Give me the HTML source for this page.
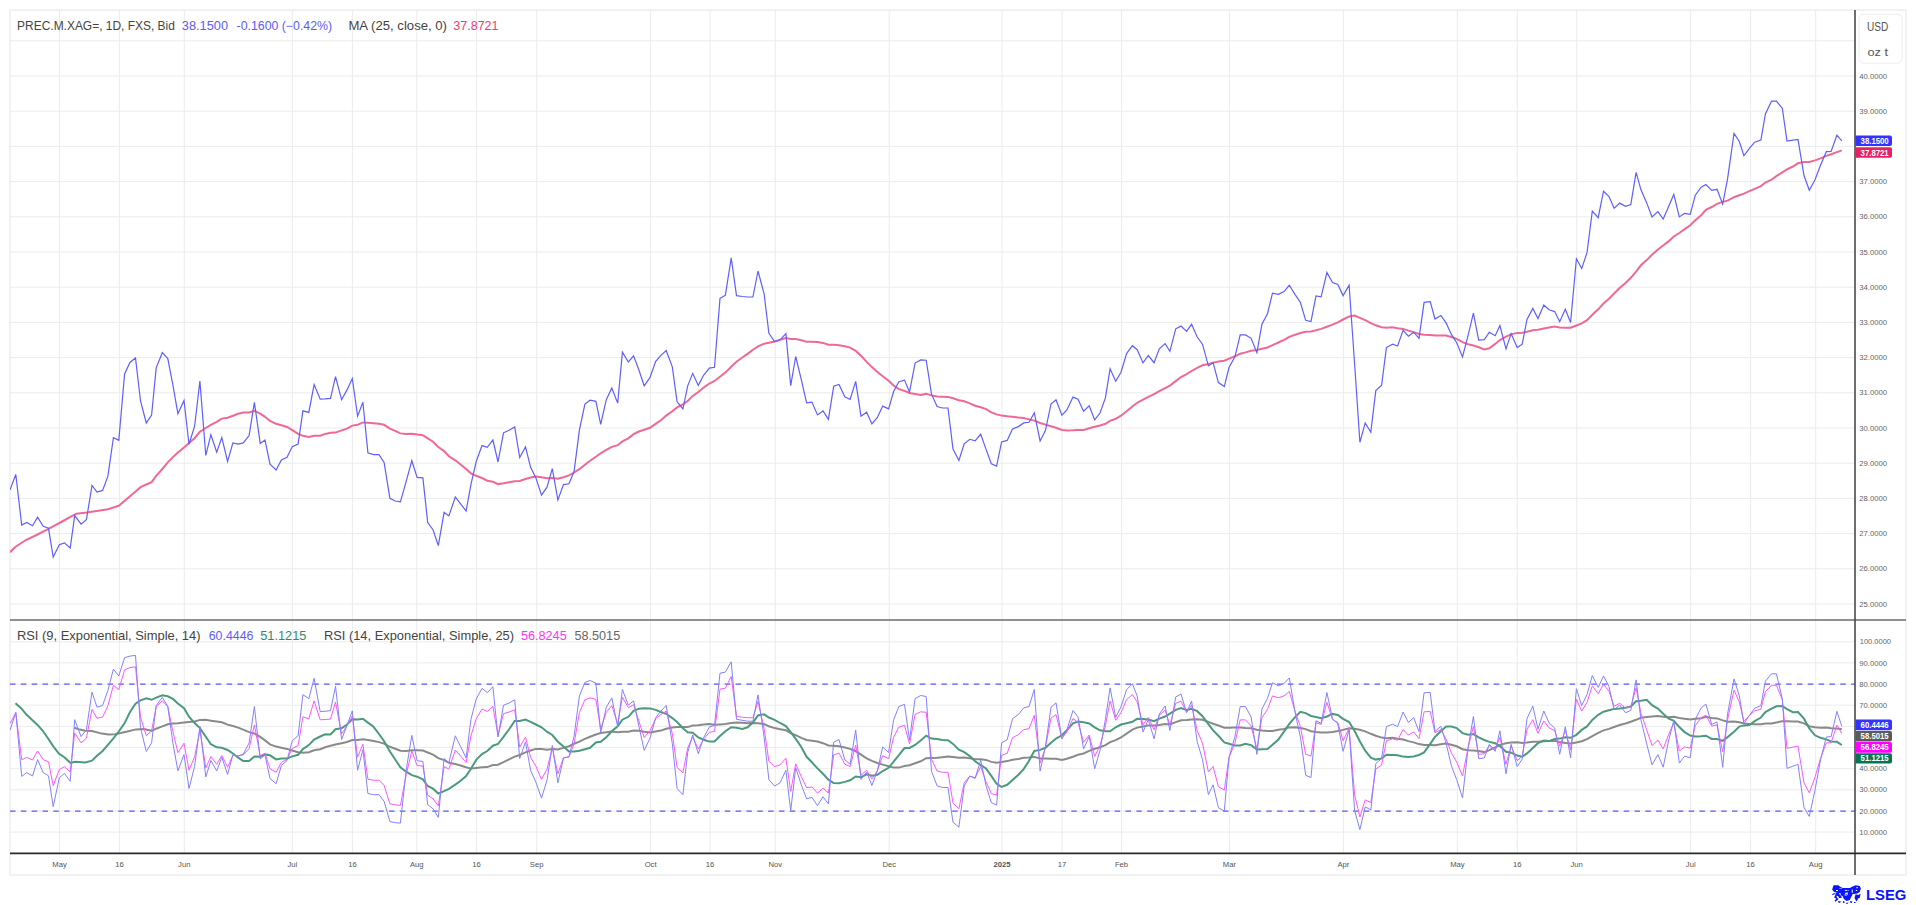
<!DOCTYPE html>
<html><head><meta charset="utf-8"><style>
html,body{margin:0;padding:0;background:#fff;width:1916px;height:905px;overflow:hidden;position:relative}
</style></head><body>
<svg width="1916" height="905" viewBox="0 0 1916 905" style="position:absolute;left:0;top:0"><rect x="10" y="10" width="1896" height="865" fill="#fff" stroke="#ececec" stroke-width="1.3"/><line x1="59.5" y1="10" x2="59.5" y2="853" stroke="#ececec" stroke-width="1"/><line x1="119.4" y1="10" x2="119.4" y2="853" stroke="#ececec" stroke-width="1"/><line x1="184.3" y1="10" x2="184.3" y2="853" stroke="#ececec" stroke-width="1"/><line x1="292.3" y1="10" x2="292.3" y2="853" stroke="#ececec" stroke-width="1"/><line x1="352.4" y1="10" x2="352.4" y2="853" stroke="#ececec" stroke-width="1"/><line x1="416.8" y1="10" x2="416.8" y2="853" stroke="#ececec" stroke-width="1"/><line x1="476.6" y1="10" x2="476.6" y2="853" stroke="#ececec" stroke-width="1"/><line x1="536.7" y1="10" x2="536.7" y2="853" stroke="#ececec" stroke-width="1"/><line x1="650.6" y1="10" x2="650.6" y2="853" stroke="#ececec" stroke-width="1"/><line x1="710" y1="10" x2="710" y2="853" stroke="#ececec" stroke-width="1"/><line x1="775.3" y1="10" x2="775.3" y2="853" stroke="#ececec" stroke-width="1"/><line x1="889.2" y1="10" x2="889.2" y2="853" stroke="#ececec" stroke-width="1"/><line x1="1002" y1="10" x2="1002" y2="853" stroke="#ececec" stroke-width="1"/><line x1="1062.1" y1="10" x2="1062.1" y2="853" stroke="#ececec" stroke-width="1"/><line x1="1121.5" y1="10" x2="1121.5" y2="853" stroke="#ececec" stroke-width="1"/><line x1="1229.4" y1="10" x2="1229.4" y2="853" stroke="#ececec" stroke-width="1"/><line x1="1343.4" y1="10" x2="1343.4" y2="853" stroke="#ececec" stroke-width="1"/><line x1="1457.4" y1="10" x2="1457.4" y2="853" stroke="#ececec" stroke-width="1"/><line x1="1517.3" y1="10" x2="1517.3" y2="853" stroke="#ececec" stroke-width="1"/><line x1="1576.7" y1="10" x2="1576.7" y2="853" stroke="#ececec" stroke-width="1"/><line x1="1690.7" y1="10" x2="1690.7" y2="853" stroke="#ececec" stroke-width="1"/><line x1="1750.6" y1="10" x2="1750.6" y2="853" stroke="#ececec" stroke-width="1"/><line x1="1815.7" y1="10" x2="1815.7" y2="853" stroke="#ececec" stroke-width="1"/><line x1="10" y1="604.0" x2="1855" y2="604.0" stroke="#ececec" stroke-width="1"/><line x1="10" y1="568.8" x2="1855" y2="568.8" stroke="#ececec" stroke-width="1"/><line x1="10" y1="533.6" x2="1855" y2="533.6" stroke="#ececec" stroke-width="1"/><line x1="10" y1="498.4" x2="1855" y2="498.4" stroke="#ececec" stroke-width="1"/><line x1="10" y1="463.2" x2="1855" y2="463.2" stroke="#ececec" stroke-width="1"/><line x1="10" y1="428.0" x2="1855" y2="428.0" stroke="#ececec" stroke-width="1"/><line x1="10" y1="392.8" x2="1855" y2="392.8" stroke="#ececec" stroke-width="1"/><line x1="10" y1="357.6" x2="1855" y2="357.6" stroke="#ececec" stroke-width="1"/><line x1="10" y1="322.4" x2="1855" y2="322.4" stroke="#ececec" stroke-width="1"/><line x1="10" y1="287.2" x2="1855" y2="287.2" stroke="#ececec" stroke-width="1"/><line x1="10" y1="252.0" x2="1855" y2="252.0" stroke="#ececec" stroke-width="1"/><line x1="10" y1="216.8" x2="1855" y2="216.8" stroke="#ececec" stroke-width="1"/><line x1="10" y1="181.6" x2="1855" y2="181.6" stroke="#ececec" stroke-width="1"/><line x1="10" y1="146.4" x2="1855" y2="146.4" stroke="#ececec" stroke-width="1"/><line x1="10" y1="111.2" x2="1855" y2="111.2" stroke="#ececec" stroke-width="1"/><line x1="10" y1="76.0" x2="1855" y2="76.0" stroke="#ececec" stroke-width="1"/><line x1="10" y1="40.8" x2="1855" y2="40.8" stroke="#ececec" stroke-width="1"/><line x1="10" y1="832.1" x2="1855" y2="832.1" stroke="#ececec" stroke-width="1"/><line x1="10" y1="811.0" x2="1855" y2="811.0" stroke="#ececec" stroke-width="1"/><line x1="10" y1="789.8" x2="1855" y2="789.8" stroke="#ececec" stroke-width="1"/><line x1="10" y1="768.7" x2="1855" y2="768.7" stroke="#ececec" stroke-width="1"/><line x1="10" y1="747.5" x2="1855" y2="747.5" stroke="#ececec" stroke-width="1"/><line x1="10" y1="726.4" x2="1855" y2="726.4" stroke="#ececec" stroke-width="1"/><line x1="10" y1="705.2" x2="1855" y2="705.2" stroke="#ececec" stroke-width="1"/><line x1="10" y1="684.1" x2="1855" y2="684.1" stroke="#ececec" stroke-width="1"/><line x1="10" y1="662.9" x2="1855" y2="662.9" stroke="#ececec" stroke-width="1"/><line x1="10" y1="641.8" x2="1855" y2="641.8" stroke="#ececec" stroke-width="1"/><line x1="10" y1="684.1" x2="1855" y2="684.1" stroke="#5858ff" stroke-width="1.25" stroke-dasharray="5.5 5.33"/><line x1="10" y1="811.0" x2="1855" y2="811.0" stroke="#5858ff" stroke-width="1.25" stroke-dasharray="5.5 5.33"/><defs><clipPath id="cm"><rect x="10" y="10" width="1845" height="610"/></clipPath><clipPath id="cr"><rect x="10" y="620" width="1845" height="233"/></clipPath></defs><g clip-path="url(#cm)" fill="none"><path d="M10.0,552.2 L15.3,547.0 L25.9,540.0 L36.5,535.0 L48.5,528.9 L63.0,521.0 L76.3,513.7 L86.9,512.4 L108.0,509.2 L118.8,505.8 L137.3,489.9 L140.5,487.2 L146.3,484.5 L151.6,482.1 L156.2,475.8 L162.3,469.0 L167.8,462.3 L172.9,457.1 L177.9,452.6 L184.0,447.4 L189.0,442.9 L194.6,438.2 L199.9,431.7 L205.8,428.0 L210.9,424.8 L216.7,421.9 L221.8,418.6 L227.6,417.7 L232.9,415.7 L238.2,413.8 L243.2,412.5 L249.1,412.4 L254.4,410.9 L260.2,413.7 L265.0,416.8 L270.0,421.0 L276.1,423.8 L281.4,425.3 L287.0,427.0 L292.3,430.1 L298.1,433.8 L302.9,435.8 L308.8,436.9 L314.1,435.8 L320.2,435.7 L325.2,433.9 L330.5,432.8 L335.5,432.6 L341.6,430.4 L347.0,428.6 L352.3,425.6 L357.6,424.8 L362.9,422.4 L367.9,422.8 L373.5,423.2 L379.0,423.7 L384.1,424.8 L389.9,428.6 L395.2,430.9 L400.4,433.4 L406.2,434.1 L411.8,433.7 L417.1,434.4 L422.9,435.2 L427.7,438.3 L433.0,441.7 L438.3,447.1 L444.1,451.1 L448.9,456.3 L455.3,460.3 L460.6,464.5 L466.1,469.0 L470.9,473.3 L476.2,475.8 L482.0,478.0 L487.3,480.7 L492.9,481.7 L498.0,484.1 L503.5,483.3 L509.1,482.3 L514.7,481.2 L519.7,481.0 L525.5,479.0 L530.6,477.6 L535.9,476.6 L541.5,477.2 L547.0,478.3 L552.3,477.9 L557.9,478.8 L563.5,477.3 L569.0,475.4 L574.1,472.5 L579.4,469.2 L584.9,464.7 L590.1,460.8 L595.9,456.7 L600.7,453.3 L606.3,449.9 L611.8,446.9 L617.7,445.2 L622.4,441.4 L628.3,438.3 L633.6,434.1 L638.9,431.5 L644.2,429.8 L650.0,427.8 L655.6,423.9 L660.9,420.3 L666.2,415.6 L672.3,411.2 L677.1,407.4 L682.9,404.3 L687.7,401.0 L692.7,395.9 L698.3,392.0 L703.6,387.6 L709.4,383.5 L714.5,381.0 L720.0,376.8 L725.4,372.6 L731.2,366.8 L736.5,361.7 L742.3,357.5 L747.6,353.9 L752.9,349.7 L758.0,346.4 L764.1,343.7 L768.9,342.8 L774.6,341.6 L780.1,339.8 L785.9,338.1 L790.7,339.0 L795.7,339.1 L801.3,340.2 L806.6,341.7 L811.9,341.7 L817.5,341.9 L823.0,342.9 L828.4,344.8 L833.7,344.8 L839.0,345.2 L844.8,346.3 L850.1,347.6 L855.7,350.9 L861.0,355.7 L866.6,361.9 L871.9,367.1 L877.4,371.9 L882.7,376.3 L888.6,380.7 L893.6,385.5 L898.9,389.1 L904.5,390.9 L909.5,393.0 L915.1,393.9 L920.7,394.9 L926.2,393.9 L931.5,395.4 L937.1,396.5 L942.4,396.7 L948.0,396.9 L953.0,398.3 L958.9,400.3 L964.2,401.3 L969.8,403.4 L975.1,405.7 L980.7,407.2 L986.0,409.1 L991.3,412.4 L996.6,414.4 L1001.6,415.6 L1007.2,416.3 L1012.5,416.7 L1018.4,417.6 L1023.7,418.1 L1029.0,419.4 L1034.3,420.6 L1040.1,423.0 L1045.4,424.6 L1051.0,426.2 L1056.0,427.8 L1061.9,430.0 L1066.9,430.6 L1073.0,430.3 L1078.0,429.9 L1083.6,430.0 L1089.2,428.3 L1094.7,426.7 L1100.0,425.5 L1105.4,423.8 L1110.1,420.9 L1115.7,418.8 L1121.0,415.7 L1126.6,411.3 L1132.4,406.5 L1137.2,402.8 L1143.0,399.7 L1148.3,396.8 L1154.1,394.2 L1159.3,391.2 L1165.1,388.1 L1169.9,385.6 L1175.7,381.1 L1181.0,377.0 L1186.6,374.1 L1191.6,371.0 L1197.2,367.9 L1202.5,365.3 L1208.4,364.0 L1213.1,362.6 L1218.4,361.4 L1224.3,360.7 L1229.0,358.6 L1234.9,356.3 L1240.2,353.8 L1245.5,352.4 L1251.1,350.7 L1256.9,349.9 L1261.9,348.8 L1267.5,347.5 L1272.5,345.2 L1278.4,342.5 L1284.0,339.9 L1289.3,336.8 L1295.1,334.7 L1300.4,333.0 L1305.7,331.8 L1311.0,331.5 L1316.0,330.3 L1321.1,328.9 L1326.9,326.8 L1332.5,324.7 L1337.8,322.3 L1343.1,319.5 L1349.1,316.4 L1354.6,315.6 L1359.9,317.8 L1365.2,320.1 L1370.8,323.1 L1375.8,325.3 L1381.6,327.3 L1386.4,327.7 L1392.5,327.3 L1397.6,328.2 L1403.1,328.9 L1408.4,330.6 L1413.7,332.1 L1419.0,334.0 L1424.1,334.7 L1430.2,334.9 L1435.0,335.6 L1440.8,335.4 L1446.1,335.5 L1451.4,337.0 L1456.7,338.8 L1462.5,342.2 L1468.1,344.3 L1473.4,345.5 L1478.7,347.3 L1484.3,349.4 L1489.3,348.2 L1495.2,343.9 L1499.9,340.0 L1506.0,336.7 L1511.1,334.4 L1517.2,332.9 L1522.2,332.8 L1527.0,331.8 L1532.8,330.3 L1538.0,329.8 L1543.8,328.5 L1549.1,327.6 L1554.7,326.6 L1559.7,327.4 L1565.3,327.7 L1570.6,327.8 L1576.4,325.5 L1581.7,323.4 L1587.0,320.1 L1592.3,314.8 L1598.2,309.3 L1603.5,303.5 L1609.0,298.8 L1614.1,293.5 L1619.7,288.1 L1625.5,283.0 L1630.8,277.8 L1636.1,271.7 L1640.9,265.3 L1646.7,260.1 L1652.0,254.8 L1657.9,249.5 L1663.2,245.5 L1668.5,241.4 L1673.8,236.5 L1679.3,233.0 L1684.6,229.1 L1690.2,225.2 L1695.3,220.2 L1701.1,215.3 L1705.9,209.8 L1711.7,207.0 L1717.0,203.8 L1722.7,201.9 L1727.6,200.6 L1734.0,197.2 L1739.3,195.2 L1743.9,193.6 L1749.4,191.2 L1754.7,188.8 L1760.9,186.1 L1765.4,182.5 L1771.5,179.7 L1776.4,176.1 L1782.3,172.3 L1787.0,169.3 L1792.9,166.5 L1798.0,163.3 L1804.0,162.0 L1809.3,161.9 L1815.0,160.4 L1820.5,158.4 L1826.3,155.9 L1831.1,154.2 L1836.9,152.1 L1841.8,150.4" stroke="#f06896" stroke-width="2"/><path d="M10.0,489.9 L15.8,474.5 L21.7,525.1 L26.7,522.5 L32.5,525.7 L37.6,517.2 L43.2,526.2 L48.5,528.3 L53.2,557.0 L59.3,544.8 L64.4,542.9 L70.2,548.0 L74.7,515.6 L81.1,524.1 L86.4,519.8 L92.0,485.4 L97.0,492.0 L102.6,490.4 L107.9,476.1 L113.4,437.6 L118.8,440.3 L124.6,374.0 L129.9,362.5 L135.5,358.0 L140.5,401.0 L146.3,423.0 L151.6,415.0 L156.2,367.9 L162.3,352.7 L167.8,358.6 L172.9,385.1 L177.9,413.7 L184.0,400.5 L189.0,444.2 L194.6,426.2 L199.9,381.1 L205.8,455.4 L210.9,434.7 L216.7,452.2 L221.8,437.6 L227.6,461.5 L232.9,442.9 L238.2,444.2 L243.2,442.9 L249.1,435.5 L254.4,402.3 L260.2,443.4 L265.0,440.0 L270.0,464.1 L276.1,470.0 L281.4,459.9 L287.0,457.2 L292.3,446.6 L298.1,444.0 L302.9,410.8 L308.8,412.4 L314.1,384.6 L320.2,399.2 L325.2,398.9 L330.5,398.4 L335.5,376.6 L341.6,399.7 L347.0,389.9 L352.3,378.5 L357.6,416.1 L362.9,402.3 L367.9,452.7 L373.5,454.6 L379.0,454.6 L384.1,462.5 L389.9,498.4 L395.2,501.0 L400.4,501.8 L406.2,481.4 L411.8,460.7 L417.1,477.4 L422.9,477.9 L427.7,522.5 L433.0,529.7 L438.3,545.6 L444.1,512.4 L448.9,515.9 L455.3,497.0 L460.6,503.9 L466.1,511.1 L470.9,484.6 L476.2,461.5 L482.0,445.6 L487.3,447.4 L492.9,440.0 L498.0,462.0 L503.5,432.8 L509.1,430.2 L514.7,427.0 L519.7,457.5 L525.5,446.9 L530.6,467.3 L535.9,477.9 L541.5,495.2 L547.0,487.2 L552.3,468.6 L557.9,500.0 L563.5,484.6 L569.0,483.8 L574.1,471.3 L579.4,430.2 L584.9,404.1 L590.1,400.2 L595.9,401.3 L600.7,424.4 L606.3,399.7 L611.8,388.0 L617.7,403.1 L622.4,352.2 L628.3,362.0 L633.6,355.9 L638.9,370.0 L644.2,385.9 L650.0,377.4 L655.6,361.5 L660.9,355.4 L666.2,350.6 L672.3,366.8 L677.1,401.8 L682.9,409.0 L687.7,385.9 L692.7,373.4 L698.3,385.4 L703.6,375.3 L709.4,368.1 L714.5,367.3 L720.0,298.4 L725.4,295.2 L731.2,257.8 L736.5,295.7 L742.3,296.5 L747.6,297.0 L752.9,297.0 L758.0,271.0 L764.1,293.8 L768.9,333.4 L774.6,341.5 L780.1,339.8 L785.9,333.7 L790.7,385.7 L795.7,356.5 L801.3,379.6 L806.6,402.9 L811.9,402.1 L817.5,414.9 L823.0,410.9 L828.4,419.4 L833.7,386.2 L839.0,384.4 L844.8,396.8 L850.1,399.5 L855.7,381.4 L861.0,416.2 L866.6,412.2 L871.9,423.9 L877.4,417.5 L882.7,406.1 L888.6,408.8 L893.6,391.5 L898.9,381.7 L904.5,380.1 L909.5,392.0 L915.1,363.1 L920.7,359.9 L926.2,360.2 L931.5,394.2 L937.1,406.6 L942.4,408.0 L948.0,408.0 L953.0,449.1 L958.9,460.5 L964.2,443.8 L969.8,439.3 L975.1,440.9 L980.7,434.3 L986.0,449.1 L991.3,463.7 L996.6,466.1 L1001.6,442.0 L1007.2,440.4 L1012.5,429.0 L1018.4,426.6 L1023.7,422.9 L1029.0,422.3 L1034.3,413.0 L1040.1,440.9 L1045.4,430.6 L1051.0,404.0 L1056.0,399.8 L1061.9,415.2 L1066.9,409.9 L1073.0,397.1 L1078.0,399.3 L1083.6,411.2 L1089.2,405.9 L1094.7,419.9 L1100.0,413.0 L1105.4,397.9 L1110.1,368.8 L1115.7,381.2 L1121.0,372.2 L1126.6,353.6 L1132.4,345.7 L1137.2,349.7 L1143.0,362.9 L1148.3,355.5 L1154.1,362.7 L1159.3,348.9 L1165.1,343.6 L1169.9,351.3 L1175.7,328.8 L1181.0,326.1 L1186.6,331.4 L1191.6,324.3 L1197.2,337.0 L1202.5,344.2 L1208.4,365.9 L1213.1,362.7 L1218.4,382.6 L1224.3,386.6 L1229.0,367.5 L1234.9,356.9 L1240.2,334.9 L1245.5,334.9 L1251.1,338.3 L1256.9,352.7 L1261.9,324.3 L1267.5,313.7 L1272.5,293.2 L1278.4,294.3 L1284.0,291.6 L1289.3,285.3 L1295.1,294.6 L1300.4,302.5 L1305.7,320.3 L1311.0,321.6 L1316.0,295.9 L1321.1,296.9 L1326.9,272.5 L1332.5,282.6 L1337.8,284.5 L1343.1,295.6 L1349.1,285.3 L1354.6,363.8 L1359.9,442.3 L1365.2,422.9 L1370.8,432.2 L1375.8,390.6 L1381.6,385.3 L1386.4,347.6 L1392.5,344.2 L1397.6,346.0 L1403.1,330.4 L1408.4,336.2 L1413.7,332.2 L1419.0,338.3 L1424.1,302.3 L1430.2,301.7 L1435.0,319.0 L1440.8,315.5 L1446.1,322.9 L1451.4,334.4 L1456.7,342.8 L1462.5,356.9 L1468.1,335.4 L1473.4,313.1 L1478.7,340.2 L1484.3,339.7 L1489.3,332.2 L1495.2,335.7 L1499.9,325.6 L1506.0,348.9 L1511.1,333.6 L1517.2,347.6 L1522.2,344.2 L1527.0,319.5 L1532.8,308.4 L1538.0,318.5 L1543.8,305.0 L1549.1,309.8 L1554.7,311.6 L1559.7,321.7 L1565.3,309.2 L1570.6,322.5 L1576.4,258.8 L1581.7,268.6 L1587.0,252.7 L1592.3,211.1 L1598.2,217.7 L1603.5,191.2 L1609.0,196.5 L1614.1,208.2 L1619.7,203.1 L1625.5,206.3 L1630.8,204.5 L1636.1,172.4 L1640.9,189.6 L1646.7,202.9 L1652.0,216.9 L1657.9,211.6 L1663.2,219.0 L1668.5,206.7 L1673.8,194.4 L1679.3,216.9 L1684.6,213.5 L1690.2,214.3 L1695.3,195.2 L1701.1,187.2 L1705.9,184.5 L1711.7,190.3 L1717.0,189.3 L1722.7,204.1 L1727.6,178.7 L1734.0,133.5 L1739.3,141.5 L1743.9,155.8 L1749.4,148.3 L1754.7,142.2 L1760.9,140.1 L1765.4,114.0 L1771.5,101.2 L1776.4,101.2 L1782.3,108.2 L1787.0,141.1 L1792.9,140.1 L1798.0,139.4 L1804.0,175.5 L1809.3,190.3 L1815.0,179.7 L1820.5,165.3 L1826.3,151.7 L1831.1,151.5 L1836.9,135.2 L1841.8,140.9" stroke="#5f5fff" stroke-width="1.2"/></g><g clip-path="url(#cr)" fill="none"><path d="M74.3,727.7 L79.8,729.6 L85.3,730.8 L92.0,731.1 L101.9,733.6 L108.5,734.6 L115.1,734.2 L127.3,731.5 L136.1,729.4 L143.9,728.9 L150.5,730.4 L151.6,730.8 L156.2,728.7 L162.3,726.4 L167.8,724.3 L172.9,723.5 L177.9,723.3 L184.0,722.5 L189.0,721.9 L194.6,721.4 L199.9,719.9 L205.8,719.8 L210.9,720.7 L216.7,721.6 L221.8,722.3 L227.6,724.6 L232.9,726.0 L238.2,727.6 L243.2,729.6 L249.1,732.1 L254.4,733.5 L260.2,736.9 L265.0,740.4 L270.0,744.4 L276.1,746.6 L281.4,747.7 L287.0,748.9 L292.3,750.5 L298.1,752.3 L302.9,752.7 L308.8,752.2 L314.1,750.2 L320.2,749.2 L325.2,747.2 L330.5,745.7 L335.5,744.6 L341.6,743.2 L347.0,742.0 L352.3,740.0 L357.6,740.1 L362.9,739.2 L367.9,740.1 L373.5,741.1 L379.0,742.1 L384.1,743.6 L389.9,746.8 L395.2,748.7 L400.4,750.8 L406.2,751.0 L411.8,750.2 L417.1,750.3 L422.9,750.6 L427.7,752.5 L433.0,754.6 L438.3,758.1 L444.1,760.1 L448.9,762.8 L455.3,764.0 L460.6,765.5 L466.1,767.2 L470.9,768.6 L476.2,767.9 L482.0,767.3 L487.3,767.1 L492.9,765.1 L498.0,764.7 L503.5,762.1 L509.1,759.4 L514.7,756.6 L519.7,755.0 L525.5,752.4 L530.6,750.5 L535.9,748.9 L541.5,749.1 L547.0,749.8 L552.3,749.1 L557.9,749.4 L563.5,747.9 L569.0,746.2 L574.1,743.7 L579.4,741.6 L584.9,738.8 L590.1,736.7 L595.9,734.5 L600.7,733.1 L606.3,732.2 L611.8,731.6 L617.7,732.2 L622.4,731.7 L628.3,731.7 L633.6,730.5 L638.9,730.8 L644.2,731.8 L650.0,732.6 L655.6,731.5 L660.9,730.6 L666.2,728.7 L672.3,727.4 L677.1,726.9 L682.9,727.1 L687.7,727.1 L692.7,725.6 L698.3,725.3 L703.6,724.5 L709.4,724.1 L714.5,724.8 L720.0,724.4 L725.4,724.0 L731.2,723.1 L736.5,722.6 L742.3,722.8 L747.6,723.3 L752.9,723.0 L758.0,723.2 L764.1,724.0 L768.9,726.3 L774.6,728.1 L780.1,729.2 L785.9,730.3 L790.7,733.2 L795.7,735.2 L801.3,737.8 L806.6,740.0 L811.9,740.8 L817.5,741.6 L823.0,743.2 L828.4,745.5 L833.7,745.7 L839.0,746.3 L844.8,747.5 L850.1,748.9 L855.7,751.2 L861.0,754.6 L866.6,758.4 L871.9,760.9 L877.4,763.0 L882.7,764.6 L888.6,766.2 L893.6,767.6 L898.9,767.6 L904.5,766.1 L909.5,765.2 L915.1,763.2 L920.7,761.3 L926.2,758.2 L931.5,758.0 L937.1,757.8 L942.4,757.2 L948.0,756.6 L953.0,757.0 L958.9,757.8 L964.2,757.4 L969.8,758.2 L975.1,759.2 L980.7,759.3 L986.0,759.9 L991.3,761.9 L996.6,762.7 L1001.6,762.1 L1007.2,761.1 L1012.5,759.7 L1018.4,758.9 L1023.7,757.7 L1029.0,757.4 L1034.3,756.9 L1040.1,758.4 L1045.4,758.6 L1051.0,758.7 L1056.0,758.8 L1061.9,759.9 L1066.9,758.8 L1073.0,756.7 L1078.0,754.7 L1083.6,753.5 L1089.2,750.8 L1094.7,748.7 L1100.0,747.2 L1105.4,745.2 L1110.1,742.1 L1115.7,740.2 L1121.0,737.5 L1126.6,733.7 L1132.4,729.7 L1137.2,727.6 L1143.0,726.4 L1148.3,725.6 L1154.1,725.4 L1159.3,724.9 L1165.1,724.1 L1169.9,724.5 L1175.7,722.1 L1181.0,720.2 L1186.6,720.0 L1191.6,719.6 L1197.2,719.3 L1202.5,719.8 L1208.4,721.9 L1213.1,723.7 L1218.4,725.5 L1224.3,727.7 L1229.0,727.7 L1234.9,727.6 L1240.2,727.4 L1245.5,728.1 L1251.1,728.3 L1256.9,729.8 L1261.9,730.5 L1267.5,731.1 L1272.5,730.9 L1278.4,729.8 L1284.0,728.9 L1289.3,727.4 L1295.1,727.2 L1300.4,727.9 L1305.7,729.1 L1311.0,731.2 L1316.0,732.0 L1321.1,732.5 L1326.9,732.4 L1332.5,731.9 L1337.8,731.1 L1343.1,729.9 L1349.1,728.3 L1354.6,728.7 L1359.9,729.7 L1365.2,731.4 L1370.8,733.8 L1375.8,735.8 L1381.6,737.6 L1386.4,738.2 L1392.5,737.8 L1397.6,738.7 L1403.1,739.5 L1408.4,741.1 L1413.7,742.4 L1419.0,744.1 L1424.1,745.0 L1430.2,745.0 L1435.0,745.2 L1440.8,744.2 L1446.1,743.5 L1451.4,744.7 L1456.7,746.3 L1462.5,749.2 L1468.1,750.3 L1473.4,750.5 L1478.7,751.0 L1484.3,752.1 L1489.3,750.1 L1495.2,747.4 L1499.9,744.9 L1506.0,743.3 L1511.1,742.4 L1517.2,742.3 L1522.2,742.9 L1527.0,742.5 L1532.8,741.7 L1538.0,741.8 L1543.8,741.2 L1549.1,741.1 L1554.7,740.8 L1559.7,742.1 L1565.3,742.9 L1570.6,743.6 L1576.4,742.4 L1581.7,741.2 L1587.0,739.2 L1592.3,736.2 L1598.2,732.9 L1603.5,730.4 L1609.0,728.9 L1614.1,727.0 L1619.7,725.0 L1625.5,723.5 L1630.8,721.8 L1636.1,719.8 L1640.9,717.8 L1646.7,717.1 L1652.0,716.5 L1657.9,715.9 L1663.2,716.7 L1668.5,717.3 L1673.8,716.8 L1679.3,718.0 L1684.6,718.8 L1690.2,719.5 L1695.3,718.7 L1701.1,718.2 L1705.9,716.8 L1711.7,717.9 L1717.0,718.4 L1722.7,720.4 L1727.6,721.7 L1734.0,721.6 L1739.3,722.3 L1743.9,723.5 L1749.4,723.9 L1754.7,724.2 L1760.9,724.2 L1765.4,723.6 L1771.5,723.5 L1776.4,722.4 L1782.3,721.2 L1787.0,721.3 L1792.9,721.6 L1798.0,721.5 L1804.0,723.4 L1809.3,726.2 L1815.0,727.3 L1820.5,727.7 L1826.3,727.5 L1831.1,728.2 L1836.9,728.5 L1841.8,729.2" stroke="#8a8a8a" stroke-width="2"/><path d="M15.5,703.3 L21.3,708.4 L26.2,714.3 L31.7,719.4 L37.3,724.7 L42.8,730.8 L48.3,738.7 L53.3,746.3 L58.8,753.5 L64.3,757.3 L70.4,762.8 L75.4,761.7 L85.3,762.4 L92.0,760.7 L97.0,755.8 L102.6,751.0 L107.9,744.9 L113.4,738.4 L118.8,731.5 L124.6,723.1 L129.9,712.3 L135.5,703.6 L140.5,700.3 L146.3,698.2 L151.6,699.8 L156.2,697.6 L162.3,695.3 L167.8,696.3 L172.9,698.9 L177.9,703.6 L184.0,708.2 L189.0,716.7 L194.6,723.1 L199.9,728.1 L205.8,736.7 L210.9,744.2 L216.7,747.3 L221.8,747.7 L227.6,750.0 L232.9,753.5 L238.2,757.7 L243.2,761.1 L249.1,761.1 L254.4,756.5 L260.2,756.8 L265.0,754.4 L270.0,755.3 L276.1,759.4 L281.4,758.5 L287.0,758.5 L292.3,756.4 L298.1,754.8 L302.9,749.1 L308.8,745.1 L314.1,739.6 L320.2,736.5 L325.2,734.3 L330.5,734.5 L335.5,729.3 L341.6,728.2 L347.0,724.5 L352.3,719.3 L357.6,719.6 L362.9,718.8 L367.9,722.6 L373.5,726.8 L379.0,734.0 L384.1,741.3 L389.9,751.5 L395.2,759.5 L400.4,767.4 L406.2,771.7 L411.8,775.2 L417.1,776.7 L422.9,779.3 L427.7,786.0 L433.0,788.7 L438.3,793.6 L444.1,791.1 L448.9,788.8 L455.3,784.6 L460.6,780.7 L466.1,776.1 L470.9,768.8 L476.2,759.9 L482.0,754.1 L487.3,751.0 L492.9,745.7 L498.0,744.0 L503.5,736.9 L509.1,729.3 L514.7,720.9 L519.7,720.9 L525.5,719.5 L530.6,721.9 L535.9,724.5 L541.5,727.3 L547.0,731.7 L552.3,735.0 L557.9,741.7 L563.5,746.4 L569.0,751.4 L574.1,751.4 L579.4,750.7 L584.9,749.2 L590.1,747.8 L595.9,742.5 L600.7,741.8 L606.3,737.3 L611.8,731.3 L617.7,726.2 L622.4,719.7 L628.3,716.8 L633.6,710.9 L638.9,708.7 L644.2,708.2 L650.0,708.4 L655.6,709.9 L660.9,712.0 L666.2,713.8 L672.3,718.1 L677.1,722.1 L682.9,728.3 L687.7,732.2 L692.7,732.8 L698.3,737.4 L703.6,739.7 L709.4,741.6 L714.5,741.5 L720.0,736.0 L725.4,731.3 L731.2,727.3 L736.5,727.8 L742.3,728.9 L747.6,727.3 L752.9,722.5 L758.0,715.4 L764.1,714.3 L768.9,717.5 L774.6,719.8 L780.1,723.0 L785.9,726.1 L790.7,732.2 L795.7,738.9 L801.3,747.0 L806.6,756.8 L811.9,762.3 L817.5,768.4 L823.0,773.8 L828.4,779.7 L833.7,783.1 L839.0,783.3 L844.8,781.9 L850.1,780.3 L855.7,776.5 L861.0,777.2 L866.6,774.4 L871.9,775.7 L877.4,774.7 L882.7,771.0 L888.6,767.8 L893.6,761.7 L898.9,755.2 L904.5,748.1 L909.5,748.0 L915.1,745.0 L920.7,740.5 L926.2,735.6 L931.5,738.6 L937.1,739.0 L942.4,740.1 L948.0,740.3 L953.0,743.9 L958.9,749.7 L964.2,752.1 L969.8,756.1 L975.1,761.2 L980.7,765.2 L986.0,768.5 L991.3,775.9 L996.6,783.7 L1001.6,787.0 L1007.2,784.8 L1012.5,780.0 L1018.4,774.8 L1023.7,769.1 L1029.0,760.8 L1034.3,751.0 L1040.1,749.9 L1045.4,747.8 L1051.0,742.7 L1056.0,738.6 L1061.9,735.3 L1066.9,730.1 L1073.0,723.4 L1078.0,721.5 L1083.6,722.2 L1089.2,723.4 L1094.7,727.3 L1100.0,730.3 L1105.4,731.3 L1110.1,731.2 L1115.7,727.3 L1121.0,724.5 L1126.6,723.2 L1132.4,721.8 L1137.2,718.8 L1143.0,718.9 L1148.3,719.6 L1154.1,721.1 L1159.3,718.6 L1165.1,716.5 L1169.9,713.7 L1175.7,709.9 L1181.0,708.1 L1186.6,709.9 L1191.6,708.7 L1197.2,711.2 L1202.5,716.2 L1208.4,724.1 L1213.1,730.4 L1218.4,735.8 L1224.3,742.4 L1229.0,743.7 L1234.9,745.4 L1240.2,745.4 L1245.5,743.7 L1251.1,745.1 L1256.9,749.4 L1261.9,749.2 L1267.5,749.0 L1272.5,744.8 L1278.4,739.5 L1284.0,731.6 L1289.3,723.9 L1295.1,717.1 L1300.4,711.8 L1305.7,713.1 L1311.0,716.0 L1316.0,717.0 L1321.1,718.2 L1326.9,716.5 L1332.5,713.9 L1337.8,715.0 L1343.1,718.8 L1349.1,722.1 L1354.6,731.1 L1359.9,741.5 L1365.2,750.7 L1370.8,757.7 L1375.8,759.6 L1381.6,758.4 L1386.4,754.7 L1392.5,755.0 L1397.6,755.2 L1403.1,756.6 L1408.4,756.9 L1413.7,756.4 L1419.0,755.0 L1424.1,752.4 L1430.2,743.9 L1435.0,736.9 L1440.8,731.2 L1446.1,726.4 L1451.4,726.6 L1456.7,728.1 L1462.5,733.1 L1468.1,734.8 L1473.4,734.1 L1478.7,737.4 L1484.3,740.0 L1489.3,741.9 L1495.2,743.3 L1499.9,746.0 L1506.0,751.8 L1511.1,752.7 L1517.2,755.6 L1522.2,756.7 L1527.0,753.4 L1532.8,748.1 L1538.0,743.2 L1543.8,740.6 L1549.1,741.1 L1554.7,738.9 L1559.7,738.6 L1565.3,737.3 L1570.6,737.8 L1576.4,734.8 L1581.7,729.9 L1587.0,726.4 L1592.3,719.9 L1598.2,714.8 L1603.5,711.7 L1609.0,710.3 L1614.1,708.9 L1619.7,708.5 L1625.5,707.8 L1630.8,706.5 L1636.1,701.2 L1640.9,700.7 L1646.7,699.7 L1652.0,705.1 L1657.9,708.6 L1663.2,713.8 L1668.5,718.5 L1673.8,720.8 L1679.3,727.1 L1684.6,732.1 L1690.2,735.5 L1695.3,736.5 L1701.1,736.2 L1705.9,735.7 L1711.7,738.9 L1717.0,739.1 L1722.7,740.8 L1727.6,737.1 L1734.0,731.7 L1739.3,726.6 L1743.9,725.4 L1749.4,725.0 L1754.7,721.1 L1760.9,717.5 L1765.4,712.0 L1771.5,708.7 L1776.4,706.3 L1782.3,705.9 L1787.0,709.1 L1792.9,712.2 L1798.0,712.0 L1804.0,718.7 L1809.3,728.5 L1815.0,735.3 L1820.5,737.8 L1826.3,739.4 L1831.1,741.4 L1836.9,741.8 L1841.8,745.0" stroke="#4c9a7d" stroke-width="2"/><path d="M10.0,723.5 L15.8,712.7 L21.7,759.7 L26.7,757.4 L32.5,760.0 L37.6,751.0 L43.2,759.7 L48.5,761.8 L53.2,785.7 L59.3,769.4 L64.4,766.8 L70.2,771.9 L74.7,732.9 L81.1,742.9 L86.4,738.2 L92.0,709.4 L97.0,718.3 L102.6,717.0 L107.9,705.8 L113.4,685.4 L118.8,689.7 L124.6,669.8 L129.9,667.6 L135.5,666.8 L140.5,717.1 L146.3,735.8 L151.6,730.6 L156.2,706.7 L162.3,700.7 L167.8,706.7 L172.9,731.5 L177.9,752.7 L184.0,743.3 L189.0,770.2 L194.6,756.9 L199.9,730.2 L205.8,767.8 L210.9,756.6 L216.7,764.3 L221.8,755.5 L227.6,767.2 L232.9,755.1 L238.2,755.8 L243.2,754.8 L249.1,748.6 L254.4,724.9 L260.2,755.8 L265.0,753.2 L270.0,768.7 L276.1,772.3 L281.4,762.3 L287.0,759.5 L292.3,748.4 L298.1,745.6 L302.9,716.8 L308.8,718.9 L314.1,700.9 L320.2,719.8 L325.2,719.5 L330.5,719.1 L335.5,702.1 L341.6,734.1 L347.0,725.5 L352.3,716.1 L357.6,757.1 L362.9,744.2 L367.9,779.2 L373.5,780.2 L379.0,780.2 L384.1,785.4 L389.9,803.8 L395.2,804.9 L400.4,805.3 L406.2,774.8 L411.8,750.9 L417.1,765.6 L422.9,766.0 L427.7,795.3 L433.0,798.8 L438.3,805.9 L444.1,766.6 L448.9,769.1 L455.3,750.0 L460.6,756.1 L466.1,762.6 L470.9,736.0 L476.2,718.8 L482.0,709.1 L487.3,711.5 L492.9,706.5 L498.0,735.4 L503.5,713.7 L509.1,712.0 L514.7,709.8 L519.7,747.1 L525.5,737.2 L530.6,757.3 L535.9,766.3 L541.5,779.4 L547.0,769.2 L552.3,748.0 L557.9,773.8 L563.5,757.7 L569.0,756.9 L574.1,743.6 L579.4,712.6 L584.9,699.7 L590.1,697.9 L595.9,699.4 L600.7,729.0 L606.3,712.3 L611.8,705.6 L617.7,723.9 L622.4,697.2 L628.3,707.7 L633.6,704.7 L638.9,721.0 L644.2,737.5 L650.0,730.6 L655.6,718.8 L660.9,714.5 L666.2,711.0 L672.3,733.5 L677.1,767.4 L682.9,772.8 L687.7,748.0 L692.7,736.8 L698.3,749.0 L703.6,739.1 L709.4,732.3 L714.5,731.5 L720.0,689.2 L725.4,688.1 L731.2,676.5 L736.5,716.4 L742.3,717.2 L747.6,717.7 L752.9,717.7 L758.0,701.5 L764.1,728.5 L768.9,761.3 L774.6,766.6 L780.1,764.9 L785.9,758.2 L790.7,791.4 L795.7,763.8 L801.3,776.7 L806.6,787.7 L811.9,786.9 L817.5,793.2 L823.0,788.2 L828.4,793.0 L833.7,754.9 L839.0,753.1 L844.8,764.2 L850.1,766.5 L855.7,745.1 L861.0,775.0 L866.6,770.3 L871.9,779.1 L877.4,770.5 L882.7,755.7 L888.6,758.7 L893.6,737.2 L898.9,727.0 L904.5,725.3 L909.5,743.9 L915.1,714.4 L920.7,711.8 L926.2,712.3 L931.5,759.4 L937.1,771.0 L942.4,772.3 L948.0,772.3 L953.0,803.2 L958.9,808.7 L964.2,782.7 L969.8,776.2 L975.1,777.7 L980.7,766.6 L986.0,781.7 L991.3,793.5 L996.6,795.3 L1001.6,755.4 L1007.2,753.2 L1012.5,737.8 L1018.4,734.6 L1023.7,729.6 L1029.0,728.7 L1034.3,715.3 L1040.1,763.2 L1045.4,747.6 L1051.0,718.2 L1056.0,714.6 L1061.9,738.0 L1066.9,732.0 L1073.0,718.5 L1078.0,722.4 L1083.6,742.3 L1089.2,735.0 L1094.7,756.4 L1100.0,745.7 L1105.4,725.9 L1110.1,700.9 L1115.7,720.3 L1121.0,712.7 L1126.6,699.5 L1132.4,694.6 L1137.2,702.0 L1143.0,724.9 L1148.3,717.5 L1154.1,729.9 L1159.3,715.1 L1165.1,710.1 L1169.9,724.9 L1175.7,703.4 L1181.0,701.2 L1186.6,712.3 L1191.6,705.2 L1197.2,730.7 L1202.5,743.2 L1208.4,771.9 L1213.1,766.4 L1218.4,786.7 L1224.3,790.1 L1229.0,757.4 L1234.9,743.1 L1240.2,719.9 L1245.5,719.9 L1251.1,725.9 L1256.9,748.8 L1261.9,717.7 L1267.5,709.3 L1272.5,695.9 L1278.4,697.8 L1284.0,695.9 L1289.3,691.5 L1295.1,711.4 L1300.4,726.6 L1305.7,754.3 L1311.0,756.1 L1316.0,722.7 L1321.1,724.4 L1326.9,702.3 L1332.5,719.4 L1337.8,722.6 L1343.1,740.8 L1349.1,728.0 L1354.6,794.7 L1359.9,817.0 L1365.2,799.9 L1370.8,802.6 L1375.8,768.9 L1381.6,765.1 L1386.4,740.8 L1392.5,738.8 L1397.6,740.2 L1403.1,729.6 L1408.4,735.1 L1413.7,731.9 L1419.0,738.7 L1424.1,711.8 L1430.2,711.4 L1435.0,732.8 L1440.8,729.7 L1446.1,739.1 L1451.4,752.9 L1456.7,762.1 L1462.5,775.9 L1468.1,747.7 L1473.4,726.4 L1478.7,754.3 L1484.3,753.8 L1489.3,745.4 L1495.2,749.6 L1499.9,737.3 L1506.0,764.3 L1511.1,745.9 L1517.2,760.6 L1522.2,756.2 L1527.0,729.2 L1532.8,719.7 L1538.0,733.4 L1543.8,720.9 L1549.1,727.9 L1554.7,730.7 L1559.7,746.3 L1565.3,730.3 L1570.6,749.8 L1576.4,699.3 L1581.7,711.1 L1587.0,702.4 L1592.3,685.8 L1598.2,693.8 L1603.5,684.4 L1609.0,691.2 L1614.1,706.2 L1619.7,703.3 L1625.5,708.0 L1630.8,706.7 L1636.1,687.8 L1640.9,713.0 L1646.7,729.8 L1652.0,745.5 L1657.9,740.0 L1663.2,748.9 L1668.5,734.9 L1673.8,722.8 L1679.3,751.0 L1684.6,747.0 L1690.2,748.1 L1695.3,725.5 L1701.1,717.8 L1705.9,715.1 L1711.7,726.1 L1717.0,724.8 L1722.7,751.8 L1727.6,719.5 L1734.0,690.2 L1739.3,701.9 L1743.9,721.3 L1749.4,715.6 L1754.7,710.9 L1760.9,709.2 L1765.4,691.7 L1771.5,685.3 L1776.4,685.3 L1782.3,699.6 L1787.0,748.3 L1792.9,747.1 L1798.0,746.2 L1804.0,783.0 L1809.3,792.8 L1815.0,777.2 L1820.5,758.3 L1826.3,742.9 L1831.1,742.7 L1836.9,725.1 L1841.8,733.5" stroke="#ff55ff" stroke-width="1"/><path d="M10.0,730.3 L15.8,712.4 L21.7,776.4 L26.7,772.6 L32.5,776.0 L37.6,759.6 L43.2,772.6 L48.5,775.8 L53.2,806.7 L59.3,777.9 L64.4,773.4 L70.2,781.3 L74.7,719.7 L81.1,736.6 L86.4,729.6 L92.0,692.2 L97.0,707.2 L102.6,705.4 L107.9,690.5 L113.4,669.1 L118.8,675.9 L124.6,657.7 L129.9,656.1 L135.5,655.4 L140.5,727.7 L146.3,751.5 L151.6,742.8 L156.2,705.6 L162.3,697.3 L167.8,706.5 L172.9,743.1 L177.9,770.8 L184.0,754.5 L189.0,788.5 L194.6,766.4 L199.9,726.5 L205.8,776.9 L210.9,760.5 L216.7,771.0 L221.8,757.3 L227.6,774.4 L232.9,754.8 L238.2,756.1 L243.2,754.3 L249.1,743.0 L254.4,706.5 L260.2,759.1 L265.0,754.9 L270.0,778.5 L276.1,783.7 L281.4,765.5 L287.0,760.5 L292.3,740.6 L298.1,735.8 L302.9,694.6 L308.8,698.7 L314.1,678.3 L320.2,711.6 L325.2,711.3 L330.5,710.6 L335.5,686.3 L341.6,739.5 L347.0,725.4 L352.3,710.9 L357.6,770.3 L362.9,749.7 L367.9,793.5 L373.5,794.7 L379.0,794.7 L384.1,801.3 L389.9,821.6 L395.2,822.7 L400.4,823.1 L406.2,770.1 L411.8,735.4 L417.1,760.7 L422.9,761.4 L427.7,804.6 L433.0,808.8 L438.3,817.4 L444.1,758.6 L448.9,762.6 L455.3,735.8 L460.6,746.6 L466.1,758.0 L470.9,719.6 L476.2,699.0 L482.0,688.4 L487.3,692.6 L492.9,686.7 L498.0,737.0 L503.5,705.2 L509.1,703.0 L514.7,699.8 L519.7,758.6 L525.5,741.9 L530.6,770.4 L535.9,782.2 L541.5,798.2 L547.0,780.2 L552.3,745.5 L557.9,782.8 L563.5,758.1 L569.0,756.8 L574.1,736.1 L579.4,696.0 L584.9,682.3 L590.1,680.5 L595.9,683.2 L600.7,732.7 L606.3,707.2 L611.8,697.9 L617.7,726.9 L622.4,689.5 L628.3,705.2 L633.6,700.8 L638.9,726.2 L644.2,750.4 L650.0,738.2 L655.6,718.0 L660.9,711.1 L666.2,705.4 L672.3,743.5 L677.1,788.5 L682.9,794.7 L687.7,752.4 L692.7,735.0 L698.3,753.8 L703.6,737.7 L709.4,726.9 L714.5,725.5 L720.0,673.2 L725.4,672.1 L731.2,661.8 L736.5,719.3 L742.3,720.3 L747.6,721.2 L752.9,721.2 L758.0,694.9 L764.1,737.1 L768.9,779.7 L774.6,786.0 L780.1,782.8 L785.9,770.2 L790.7,810.8 L795.7,767.6 L801.3,784.9 L806.6,798.8 L811.9,797.4 L817.5,805.6 L823.0,796.7 L828.4,803.9 L833.7,742.1 L839.0,739.6 L844.8,759.8 L850.1,764.2 L855.7,730.0 L861.0,779.5 L866.6,772.0 L871.9,785.5 L877.4,770.8 L882.7,746.9 L888.6,752.5 L893.6,719.9 L898.9,706.5 L904.5,704.3 L909.5,740.0 L915.1,698.6 L920.7,695.5 L926.2,696.5 L931.5,771.2 L937.1,785.8 L942.4,787.5 L948.0,787.5 L953.0,822.3 L958.9,827.2 L964.2,786.1 L969.8,776.1 L975.1,778.4 L980.7,760.2 L986.0,785.6 L991.3,802.6 L996.6,805.1 L1001.6,742.8 L1007.2,739.7 L1012.5,718.7 L1018.4,714.6 L1023.7,707.8 L1029.0,706.6 L1034.3,689.4 L1040.1,771.1 L1045.4,746.9 L1051.0,707.3 L1056.0,702.8 L1061.9,739.0 L1066.9,729.9 L1073.0,710.5 L1078.0,716.9 L1083.6,748.9 L1089.2,736.5 L1094.7,768.7 L1100.0,750.3 L1105.4,719.4 L1110.1,687.9 L1115.7,717.3 L1121.0,706.8 L1126.6,689.6 L1132.4,683.8 L1137.2,696.0 L1143.0,732.1 L1148.3,719.6 L1154.1,738.9 L1159.3,714.0 L1165.1,706.0 L1169.9,730.5 L1175.7,697.0 L1181.0,694.0 L1186.6,712.6 L1191.6,701.0 L1197.2,741.7 L1202.5,759.5 L1208.4,794.6 L1213.1,784.8 L1218.4,807.7 L1224.3,811.2 L1229.0,757.6 L1234.9,736.8 L1240.2,706.6 L1245.5,706.6 L1251.1,717.0 L1256.9,754.4 L1261.9,709.0 L1267.5,698.3 L1272.5,682.7 L1278.4,685.8 L1284.0,683.5 L1289.3,677.9 L1295.1,712.6 L1300.4,737.1 L1305.7,775.3 L1311.0,777.5 L1316.0,720.7 L1321.1,723.4 L1326.9,692.5 L1332.5,718.8 L1337.8,723.8 L1343.1,751.4 L1349.1,729.7 L1354.6,810.5 L1359.9,829.7 L1365.2,806.8 L1370.8,810.0 L1375.8,763.6 L1381.6,758.5 L1386.4,726.7 L1392.5,724.2 L1397.6,726.7 L1403.1,712.0 L1408.4,722.5 L1413.7,717.6 L1419.0,731.6 L1424.1,692.8 L1430.2,692.4 L1435.0,731.5 L1440.8,726.3 L1446.1,743.2 L1451.4,765.8 L1456.7,779.6 L1462.5,797.9 L1468.1,747.7 L1473.4,716.5 L1478.7,758.8 L1484.3,758.0 L1489.3,744.4 L1495.2,751.3 L1499.9,730.8 L1506.0,773.8 L1511.1,744.3 L1517.2,766.5 L1522.2,759.2 L1527.0,718.6 L1532.8,706.1 L1538.0,729.1 L1543.8,711.0 L1549.1,723.0 L1554.7,728.0 L1559.7,754.3 L1565.3,726.7 L1570.6,757.9 L1576.4,688.7 L1581.7,705.6 L1587.0,694.6 L1592.3,675.6 L1598.2,687.4 L1603.5,676.0 L1609.0,686.5 L1614.1,709.8 L1619.7,705.0 L1625.5,712.8 L1630.8,710.3 L1636.1,679.9 L1640.9,719.6 L1646.7,743.8 L1652.0,764.9 L1657.9,754.6 L1663.2,767.2 L1668.5,741.0 L1673.8,720.4 L1679.3,763.1 L1684.6,756.2 L1690.2,757.8 L1695.3,719.4 L1701.1,708.0 L1705.9,704.1 L1711.7,724.4 L1717.0,722.0 L1722.7,767.3 L1727.6,713.9 L1734.0,678.9 L1739.3,695.8 L1743.9,723.9 L1749.4,715.3 L1754.7,708.2 L1760.9,705.6 L1765.4,681.2 L1771.5,673.8 L1776.4,673.8 L1782.3,698.8 L1787.0,768.4 L1792.9,766.2 L1798.0,764.4 L1804.0,807.4 L1809.3,816.5 L1815.0,790.1 L1820.5,759.9 L1826.3,737.0 L1831.1,736.6 L1836.9,711.4 L1841.8,726.2" stroke="#8282ff" stroke-width="1"/></g><line x1="10" y1="620" x2="1906" y2="620" stroke="#6b6b6b" stroke-width="1.6"/><line x1="1855" y1="10" x2="1855" y2="875" stroke="#4a4a4a" stroke-width="1.6"/><line x1="10" y1="853.4" x2="1906" y2="853.4" stroke="#2a2a2a" stroke-width="1.6"/><rect x="1859" y="14.2" width="43.2" height="49" rx="5" fill="#fff" stroke="#ededed" stroke-width="1"/><text transform="translate(1866.96,30.90) scale(0.8136,1)" font-family="'Liberation Sans', sans-serif" font-size="12.41" font-weight="normal" fill="#555">USD</text><text transform="translate(1867.40,55.80) scale(1.1199,1)" font-family="'Liberation Sans', sans-serif" font-size="11.45" font-weight="normal" fill="#555">oz t</text><text transform="translate(1859.26,606.60) scale(1.0169,1)" font-family="'Liberation Sans', sans-serif" font-size="7.59" font-weight="normal" fill="#666">25.0000</text><text transform="translate(1859.26,571.40) scale(1.0169,1)" font-family="'Liberation Sans', sans-serif" font-size="7.59" font-weight="normal" fill="#666">26.0000</text><text transform="translate(1859.26,536.20) scale(1.0169,1)" font-family="'Liberation Sans', sans-serif" font-size="7.59" font-weight="normal" fill="#666">27.0000</text><text transform="translate(1859.26,501.00) scale(1.0169,1)" font-family="'Liberation Sans', sans-serif" font-size="7.59" font-weight="normal" fill="#666">28.0000</text><text transform="translate(1859.26,465.80) scale(1.0169,1)" font-family="'Liberation Sans', sans-serif" font-size="7.59" font-weight="normal" fill="#666">29.0000</text><text transform="translate(1859.26,430.60) scale(1.0169,1)" font-family="'Liberation Sans', sans-serif" font-size="7.59" font-weight="normal" fill="#666">30.0000</text><text transform="translate(1859.26,395.40) scale(1.0169,1)" font-family="'Liberation Sans', sans-serif" font-size="7.59" font-weight="normal" fill="#666">31.0000</text><text transform="translate(1859.26,360.20) scale(1.0169,1)" font-family="'Liberation Sans', sans-serif" font-size="7.59" font-weight="normal" fill="#666">32.0000</text><text transform="translate(1859.26,325.00) scale(1.0169,1)" font-family="'Liberation Sans', sans-serif" font-size="7.59" font-weight="normal" fill="#666">33.0000</text><text transform="translate(1859.26,289.80) scale(1.0169,1)" font-family="'Liberation Sans', sans-serif" font-size="7.59" font-weight="normal" fill="#666">34.0000</text><text transform="translate(1859.26,254.60) scale(1.0169,1)" font-family="'Liberation Sans', sans-serif" font-size="7.59" font-weight="normal" fill="#666">35.0000</text><text transform="translate(1859.26,219.40) scale(1.0169,1)" font-family="'Liberation Sans', sans-serif" font-size="7.59" font-weight="normal" fill="#666">36.0000</text><text transform="translate(1859.26,184.20) scale(1.0169,1)" font-family="'Liberation Sans', sans-serif" font-size="7.59" font-weight="normal" fill="#666">37.0000</text><text transform="translate(1859.26,113.80) scale(1.0169,1)" font-family="'Liberation Sans', sans-serif" font-size="7.59" font-weight="normal" fill="#666">39.0000</text><text transform="translate(1859.26,78.60) scale(1.0169,1)" font-family="'Liberation Sans', sans-serif" font-size="7.59" font-weight="normal" fill="#666">40.0000</text><text transform="translate(1859.26,834.75) scale(1.0169,1)" font-family="'Liberation Sans', sans-serif" font-size="7.59" font-weight="normal" fill="#666">10.0000</text><text transform="translate(1859.26,813.60) scale(1.0169,1)" font-family="'Liberation Sans', sans-serif" font-size="7.59" font-weight="normal" fill="#666">20.0000</text><text transform="translate(1859.26,792.45) scale(1.0169,1)" font-family="'Liberation Sans', sans-serif" font-size="7.59" font-weight="normal" fill="#666">30.0000</text><text transform="translate(1859.26,771.30) scale(1.0169,1)" font-family="'Liberation Sans', sans-serif" font-size="7.59" font-weight="normal" fill="#666">40.0000</text><text transform="translate(1859.26,707.85) scale(1.0169,1)" font-family="'Liberation Sans', sans-serif" font-size="7.59" font-weight="normal" fill="#666">70.0000</text><text transform="translate(1859.26,686.70) scale(1.0169,1)" font-family="'Liberation Sans', sans-serif" font-size="7.59" font-weight="normal" fill="#666">80.0000</text><text transform="translate(1859.26,665.55) scale(1.0169,1)" font-family="'Liberation Sans', sans-serif" font-size="7.59" font-weight="normal" fill="#666">90.0000</text><text transform="translate(1859.78,644.40) scale(1.0061,1)" font-family="'Liberation Sans', sans-serif" font-size="7.45" font-weight="normal" fill="#666">100.0000</text><text transform="translate(59.5,866.7) scale(1.0723,1)" text-anchor="middle" font-family="'Liberation Sans', sans-serif" font-size="7.17" font-weight="normal" fill="#555">May</text><text transform="translate(119.4,866.7) scale(1.0723,1)" text-anchor="middle" font-family="'Liberation Sans', sans-serif" font-size="7.17" font-weight="normal" fill="#555">16</text><text transform="translate(184.3,866.7) scale(1.0723,1)" text-anchor="middle" font-family="'Liberation Sans', sans-serif" font-size="7.17" font-weight="normal" fill="#555">Jun</text><text transform="translate(292.3,866.7) scale(1.0723,1)" text-anchor="middle" font-family="'Liberation Sans', sans-serif" font-size="7.17" font-weight="normal" fill="#555">Jul</text><text transform="translate(352.4,866.7) scale(1.0723,1)" text-anchor="middle" font-family="'Liberation Sans', sans-serif" font-size="7.17" font-weight="normal" fill="#555">16</text><text transform="translate(416.8,866.7) scale(1.0723,1)" text-anchor="middle" font-family="'Liberation Sans', sans-serif" font-size="7.17" font-weight="normal" fill="#555">Aug</text><text transform="translate(476.6,866.7) scale(1.0723,1)" text-anchor="middle" font-family="'Liberation Sans', sans-serif" font-size="7.17" font-weight="normal" fill="#555">16</text><text transform="translate(536.7,866.7) scale(1.0723,1)" text-anchor="middle" font-family="'Liberation Sans', sans-serif" font-size="7.17" font-weight="normal" fill="#555">Sep</text><text transform="translate(650.6,866.7) scale(1.0723,1)" text-anchor="middle" font-family="'Liberation Sans', sans-serif" font-size="7.17" font-weight="normal" fill="#555">Oct</text><text transform="translate(710,866.7) scale(1.0723,1)" text-anchor="middle" font-family="'Liberation Sans', sans-serif" font-size="7.17" font-weight="normal" fill="#555">16</text><text transform="translate(775.3,866.7) scale(1.0723,1)" text-anchor="middle" font-family="'Liberation Sans', sans-serif" font-size="7.17" font-weight="normal" fill="#555">Nov</text><text transform="translate(889.2,866.7) scale(1.0723,1)" text-anchor="middle" font-family="'Liberation Sans', sans-serif" font-size="7.17" font-weight="normal" fill="#555">Dec</text><text transform="translate(1002,866.7) scale(1.0723,1)" text-anchor="middle" font-family="'Liberation Sans', sans-serif" font-size="7.17" font-weight="bold" fill="#555">2025</text><text transform="translate(1062.1,866.7) scale(1.0723,1)" text-anchor="middle" font-family="'Liberation Sans', sans-serif" font-size="7.17" font-weight="normal" fill="#555">17</text><text transform="translate(1121.5,866.7) scale(1.0723,1)" text-anchor="middle" font-family="'Liberation Sans', sans-serif" font-size="7.17" font-weight="normal" fill="#555">Feb</text><text transform="translate(1229.4,866.7) scale(1.0723,1)" text-anchor="middle" font-family="'Liberation Sans', sans-serif" font-size="7.17" font-weight="normal" fill="#555">Mar</text><text transform="translate(1343.4,866.7) scale(1.0723,1)" text-anchor="middle" font-family="'Liberation Sans', sans-serif" font-size="7.17" font-weight="normal" fill="#555">Apr</text><text transform="translate(1457.4,866.7) scale(1.0723,1)" text-anchor="middle" font-family="'Liberation Sans', sans-serif" font-size="7.17" font-weight="normal" fill="#555">May</text><text transform="translate(1517.3,866.7) scale(1.0723,1)" text-anchor="middle" font-family="'Liberation Sans', sans-serif" font-size="7.17" font-weight="normal" fill="#555">16</text><text transform="translate(1576.7,866.7) scale(1.0723,1)" text-anchor="middle" font-family="'Liberation Sans', sans-serif" font-size="7.17" font-weight="normal" fill="#555">Jun</text><text transform="translate(1690.7,866.7) scale(1.0723,1)" text-anchor="middle" font-family="'Liberation Sans', sans-serif" font-size="7.17" font-weight="normal" fill="#555">Jul</text><text transform="translate(1750.6,866.7) scale(1.0723,1)" text-anchor="middle" font-family="'Liberation Sans', sans-serif" font-size="7.17" font-weight="normal" fill="#555">16</text><text transform="translate(1815.7,866.7) scale(1.0723,1)" text-anchor="middle" font-family="'Liberation Sans', sans-serif" font-size="7.17" font-weight="normal" fill="#555">Aug</text><path d="M1855.5,135.6 H1890 a2,2 0 0 1 2,2 V144 a2,2 0 0 1 -2,2 H1855.5 Z" fill="#3333ff"/><text transform="translate(1860.60,143.80) scale(0.9408,1)" font-family="'Liberation Sans', sans-serif" font-size="8.28" font-weight="bold" fill="#fff">38.1500</text><path d="M1855.5,147.2 H1890 a2,2 0 0 1 2,2 V155.8 a2,2 0 0 1 -2,2 H1855.5 Z" fill="#e91e63"/><text transform="translate(1860.60,155.50) scale(0.9408,1)" font-family="'Liberation Sans', sans-serif" font-size="8.28" font-weight="bold" fill="#fff">37.8721</text><path d="M1855.5,719.6 H1890 a2,2 0 0 1 2,2 V728.2 a2,2 0 0 1 -2,2 H1855.5 Z" fill="#3333ff"/><text transform="translate(1860.60,727.90) scale(0.9408,1)" font-family="'Liberation Sans', sans-serif" font-size="8.28" font-weight="bold" fill="#fff">60.4446</text><path d="M1855.5,730.9 H1890 a2,2 0 0 1 2,2 V739.6 a2,2 0 0 1 -2,2 H1855.5 Z" fill="#5a5a5a"/><text transform="translate(1860.60,739.25) scale(0.9408,1)" font-family="'Liberation Sans', sans-serif" font-size="8.28" font-weight="bold" fill="#fff">58.5015</text><path d="M1855.5,742 H1890 a2,2 0 0 1 2,2 V750.8 a2,2 0 0 1 -2,2 H1855.5 Z" fill="#ff00ff"/><text transform="translate(1860.60,750.40) scale(0.9408,1)" font-family="'Liberation Sans', sans-serif" font-size="8.28" font-weight="bold" fill="#fff">56.8245</text><path d="M1855.5,753.2 H1890 a2,2 0 0 1 2,2 V761.6 a2,2 0 0 1 -2,2 H1855.5 Z" fill="#087552"/><text transform="translate(1860.60,761.40) scale(0.9408,1)" font-family="'Liberation Sans', sans-serif" font-size="8.28" font-weight="bold" fill="#fff">51.1215</text><text transform="translate(17.10,29.66) scale(1.0079,1)" font-family="'Liberation Sans', sans-serif" font-size="11.88" font-weight="normal" fill="#444">PREC.M.XAG=, 1D, FXS, Bid</text><text transform="translate(181.84,29.66) scale(1.0754,1)" font-family="'Liberation Sans', sans-serif" font-size="11.88" font-weight="normal" fill="#5b5bff">38.1500</text><text transform="translate(236.60,29.66) scale(1.0379,1)" font-family="'Liberation Sans', sans-serif" font-size="11.88" font-weight="normal" fill="#5b5bff">-0.1600 (−0.42%)</text><text transform="translate(348.40,29.66) scale(1.1081,1)" font-family="'Liberation Sans', sans-serif" font-size="11.88" font-weight="normal" fill="#444">MA (25, close, 0)</text><text transform="translate(453.25,29.66) scale(1.0562,1)" font-family="'Liberation Sans', sans-serif" font-size="11.88" font-weight="normal" fill="#f23a6b">37.8721</text><text transform="translate(16.92,640.00) scale(1.0647,1)" font-family="'Liberation Sans', sans-serif" font-size="12.14" font-weight="normal" fill="#444">RSI (9, Exponential, Simple, 14)</text><text transform="translate(208.70,640.00) scale(1.0185,1)" font-family="'Liberation Sans', sans-serif" font-size="12.14" font-weight="normal" fill="#5b5bff">60.4446</text><text transform="translate(260.24,640.00) scale(1.0522,1)" font-family="'Liberation Sans', sans-serif" font-size="12.14" font-weight="normal" fill="#2e8b6a">51.1215</text><text transform="translate(323.93,640.00) scale(1.0600,1)" font-family="'Liberation Sans', sans-serif" font-size="12.14" font-weight="normal" fill="#444">RSI (14, Exponential, Simple, 25)</text><text transform="translate(520.95,640.00) scale(1.0428,1)" font-family="'Liberation Sans', sans-serif" font-size="12.14" font-weight="normal" fill="#ff33ff">56.8245</text><text transform="translate(574.45,640.00) scale(1.0428,1)" font-family="'Liberation Sans', sans-serif" font-size="12.14" font-weight="normal" fill="#666">58.5015</text><text transform="translate(1866.01,900.00) scale(0.9610,1)" font-family="'Liberation Sans', sans-serif" font-size="15.45" font-weight="bold" fill="#0a14ff">LSEG</text><g transform="translate(1828,880) scale(0.027624)" fill="#0a14ff">
<path d="M150,340 L200,190 L370,190 L470,260 L540,290 L800,290 L850,250 L1000,190 L1150,220 L1190,310 L1150,430 L1060,490 L960,510 L870,560 L820,650 L790,720 L680,760 L570,690 L540,600 L480,560 L400,480 L300,450 L220,430 Z"/>
<path d="M140,520 L230,470 L260,510 L170,540 Z"/>
<path d="M280,470 L370,440 L410,500 L480,590 L500,650 L400,650 L370,590 L300,570 L330,640 L380,700 L270,790 L240,740 L300,680 L220,630 L260,560 Z"/>
<path d="M960,640 L1000,520 L1090,540 L1180,500 L1150,650 L1080,670 L1080,710 L1030,780 L990,710 Z"/>
<path d="M360,760 L420,770 L470,780 L430,830 L380,810 Z"/>
<path d="M540,760 L590,770 L600,830 L550,830 Z"/>
<path d="M650,830 L740,810 L720,860 L660,860 Z"/>
<path d="M790,760 L880,780 L860,830 L810,820 Z"/>
<path d="M940,800 L1000,800 L990,830 L945,830 Z"/>
<g fill="#fff">
<path d="M290,360 L360,360 L360,395 L290,395 Z"/>
<path d="M610,360 L700,360 L700,392 L610,392 Z"/>
<path d="M730,370 L765,370 L765,392 L730,392 Z"/>
<path d="M860,340 L895,340 L895,460 L860,460 Z"/>
<path d="M1030,250 L1075,250 L1075,300 L1030,300 Z"/>
<path d="M1010,360 L1060,360 L1050,395 L1010,395 Z"/>
<path d="M400,300 L500,310 L520,330 L420,320 Z"/>
<path d="M620,470 L700,440 L730,520 L680,560 L600,560 Z"/>
<path d="M880,520 L960,500 L950,540 L880,580 Z"/>
<path d="M400,480 L440,470 L470,520 L430,530 Z"/>
</g>
<path d="M630,500 L700,500 L700,530 L630,530 Z"/>
</g></svg>
</body></html>
